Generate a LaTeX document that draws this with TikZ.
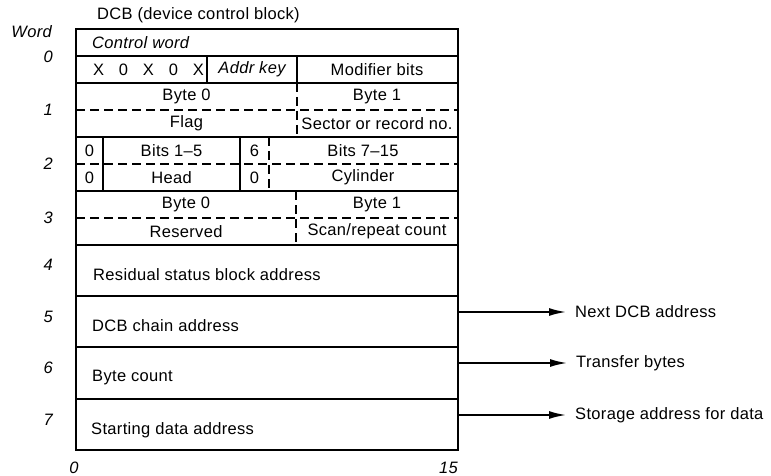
\documentclass[tikz,border=0pt]{standalone}
\usepackage{fontspec}
\setmainfont{Liberation Sans}[LetterSpace=2.0]
\usetikzlibrary{positioning, arrows.meta}

\begin{document}
\begin{tikzpicture}[
        x=1pt, y=-1pt,
        txt/.style={inner sep=0pt, font=\fontsize{16.5}{19}\selectfont},
        itxt/.style={inner sep=0pt, font=\fontsize{16.5}{19}\selectfont\itshape},
        wordno/.style={itxt, anchor=east},
        rule/.style={line width=1.6pt},
        drule/.style={line width=1.6pt, dash pattern=on 9pt off 5pt},
        ptr/.style={line width=2.4pt, -{Latex[length=18pt, width=8pt]}, shorten >=8pt},
        ptrlbl/.style={txt, anchor=west},
    ]
    \useasboundingbox (0,0) rectangle (771,476);

    % frame and rules
    \draw[rule] (76,29) rectangle (458,450);
    \foreach \y in {56, 83, 137, 191, 245, 296, 347, 399}
        \draw[rule] (76,\y) -- (458,\y);
    \foreach \y in {110, 164, 218}
        \draw[drule] (76,\y) -- (458,\y);
    \draw[rule] (207,56) -- (207,83);
    \draw[rule] (297,56) -- (297,83);
    \draw[drule] (297,83) -- (297,137);
    \draw[rule] (103,137) -- (103,191);
    \draw[rule] (240,137) -- (240,191);
    \draw[drule] (269,137) -- (269,191);
    \draw[drule] (296,191) -- (296,245);

    % headings
    \node[txt, anchor=west] (title) at (97,15) {DCB (device control block)};
    \node[wordno] (word) at (52,32) {Word};
    \foreach \n/\y in {0/57, 1/110, 2/164, 3/218, 4/265, 5/317, 6/368, 7/420}
        \node[wordno] (w\n) at (53,\y) {\n};
    \node[itxt] (bit0) at (74,468) {0};
    \node[itxt, anchor=east] (bit15) at (458,468) {15};

    % word 0
    \node[itxt, anchor=west] (ctlword) at (92,42.5) {Control word};
    \node[txt, anchor=east] (xbits) at (204,69.5) {X\hspace{0.9em}0\hspace{0.9em}X\hspace{0.9em}0\hspace{0.9em}X};
    \node[itxt] (addrkey) at (252,69.5) {Addr key};
    \node[txt] (modbits) at (377,69.5) {Modifier bits};
    % word 1
    \node[txt] (byte0a) at (186.5,96.5) {Byte 0};
    \node[txt] (byte1a) at (377,96.5) {Byte 1};
    \node[txt] (flag) at (186.5,123.5) {Flag};
    \node[txt] (sector) at (377,123.5) {Sector or record no.};
    % word 2
    \node[txt] (zeroa) at (89.5,150.5) {0};
    \node[txt] (bits15) at (171.5,150.5) {Bits 1--5};
    \node[txt] (six) at (254.5,150.5) {6};
    \node[txt] (bits715) at (363,150.5) {Bits 7--15};
    \node[txt] (zerob) at (89.5,177.5) {0};
    \node[txt] (head) at (171.5,177.5) {Head};
    \node[txt] (zeroc) at (254.5,177.5) {0};
    \node[txt] (cyl) at (363,177.5) {Cylinder};
    % word 3
    \node[txt] (byte0b) at (186,204.5) {Byte 0};
    \node[txt] (byte1b) at (377,204.5) {Byte 1};
    \node[txt] (reserved) at (186,231.5) {Reserved};
    \node[txt] (scan) at (377,231.5) {Scan/repeat count};
    % words 4 to 7
    \node[txt, anchor=west] (rsb) at (93,275) {Residual status block address};
    \node[txt, anchor=west] (chain) at (92,326) {DCB chain address};
    \node[txt, anchor=west] (count) at (92,378) {Byte count};
    \node[txt, anchor=west] (start) at (91,430) {Starting data address};

    % pointers out
    \coordinate (c5) at (458,312);
    \coordinate (c6) at (458,363);
    \coordinate (c7) at (458,415);
    \node[ptrlbl, right=117pt of c5] (nextdcb) {Next DCB address};
    \node[ptrlbl, right=118pt of c6] (xfer) {Transfer bytes};
    \node[ptrlbl, right=117pt of c7] (storage) {Storage address for data};
    \draw[ptr] (c5) -- (nextdcb);
    \draw[ptr] (c6) -- (xfer);
    \draw[ptr] (c7) -- (storage);
\end{tikzpicture}
\end{document}
